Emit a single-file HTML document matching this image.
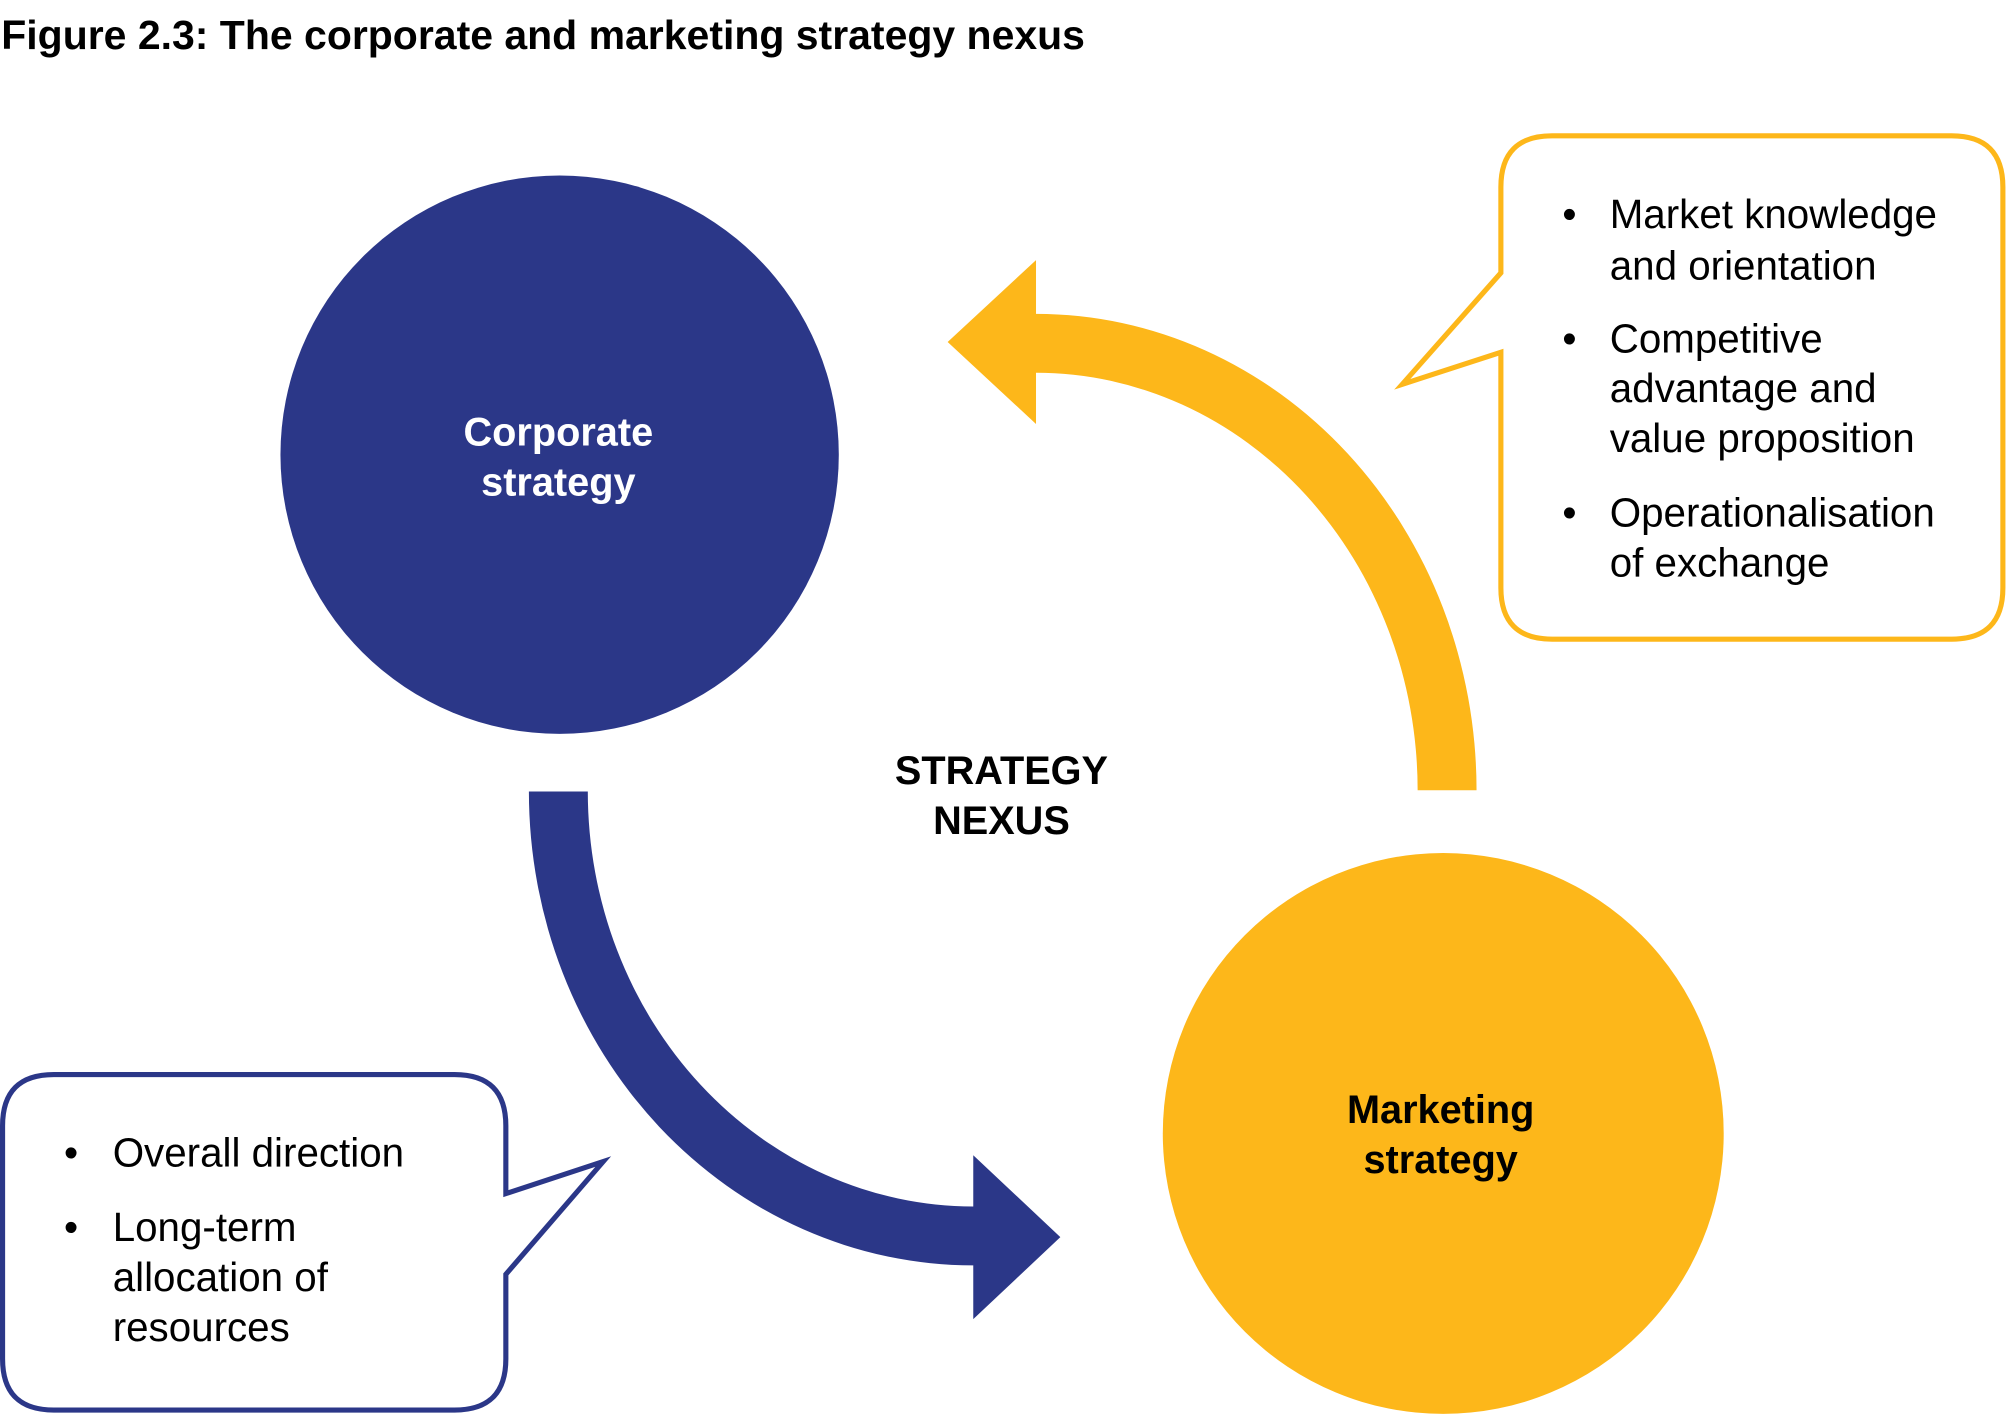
<!DOCTYPE html>
<html><head><meta charset="utf-8"><style>
html,body{margin:0;padding:0;background:#fff;}
svg{display:block;}
text{font-family:"Liberation Sans",Arial,sans-serif;}
</style></head><body>
<svg width="2008" height="1414" viewBox="0 0 1568 1104" xmlns="http://www.w3.org/2000/svg">
<rect width="1568" height="1104" fill="#fff"/>
<text x="1" y="38" font-size="32" font-weight="bold" fill="#000">Figure 2.3: The corporate and marketing strategy nexus</text>

<circle cx="437" cy="355" r="218" fill="#2B3788"/>
<text x="436" y="348" font-size="31" font-weight="bold" fill="#fff" text-anchor="middle">Corporate</text>
<text x="436" y="387" font-size="31" font-weight="bold" fill="#fff" text-anchor="middle">strategy</text>

<circle cx="1127" cy="885" r="219" fill="#FDB71A"/>
<text x="1125" y="877" font-size="31" font-weight="bold" fill="#000" text-anchor="middle">Marketing</text>
<text x="1125" y="916" font-size="31" font-weight="bold" fill="#000" text-anchor="middle">strategy</text>

<path d="M413,618 A347,370 0 0 0 760,988 L760,1030 L828,966 L760,902 L760,942 A301,324 0 0 1 459,618 Z" fill="#2B3788"/>
<path d="M1153,617 A344,372 0 0 0 809,245 L809,203 L740,267 L809,331 L809,291 A298,326 0 0 1 1107,617 Z" fill="#FDB71A"/>

<text x="782" y="612" font-size="31" font-weight="bold" fill="#000" text-anchor="middle">STRATEGY</text>
<text x="782" y="651" font-size="31" font-weight="bold" fill="#000" text-anchor="middle">NEXUS</text>

<path d="M1212,106 L1524,106 Q1564,106 1564,146 L1564,459 Q1564,499 1524,499 L1212,499 Q1172,499 1172,459 L1172,275 L1095,300 L1172,213 L1172,146 Q1172,106 1212,106 Z" fill="#fff" stroke="#FDB71A" stroke-width="4"/>
<g font-size="31.5" fill="#000">
<text x="1220" y="178">•</text>
<text x="1257" y="178">Market knowledge</text>
<text x="1257" y="218">and orientation</text>
<text x="1220" y="275">•</text>
<text x="1257" y="275">Competitive</text>
<text x="1257" y="314">advantage and</text>
<text x="1257" y="353">value proposition</text>
<text x="1220" y="411">•</text>
<text x="1257" y="411">Operationalisation</text>
<text x="1257" y="450">of exchange</text>
</g>

<path d="M42,839 L355,839 Q395,839 395,879 L395,932 L471,907 L395,995 L395,1061 Q395,1101 355,1101 L42,1101 Q2,1101 2,1061 L2,879 Q2,839 42,839 Z" fill="#fff" stroke="#2B3788" stroke-width="4"/>
<g font-size="31.5" fill="#000">
<text x="50" y="911">•</text>
<text x="88" y="911">Overall direction</text>
<text x="50" y="969">•</text>
<text x="88" y="969">Long-term</text>
<text x="88" y="1008">allocation of</text>
<text x="88" y="1047">resources</text>
</g>
</svg>
</body></html>
